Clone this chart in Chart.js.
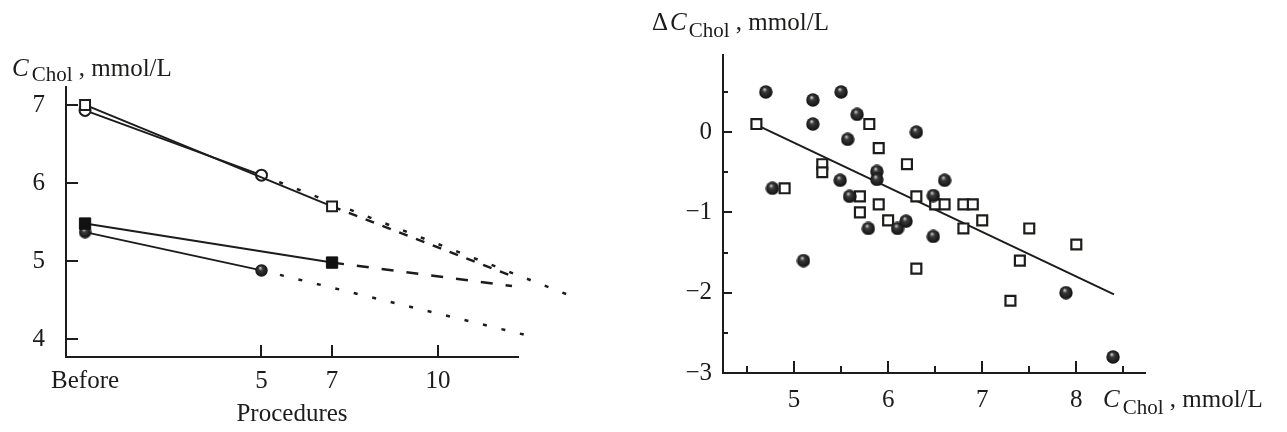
<!DOCTYPE html>
<html>
<head>
<meta charset="utf-8">
<script src="https://cdn.jsdelivr.net/npm/chart.js@4/dist/chart.umd.min.js"></script>
<style>
  html, body { margin: 0; padding: 0; background: #fff; }
  #wrap { position: relative; width: 1287px; height: 432px; }
  canvas { position: absolute; top: 0; }
  #left { left: 0; }
  #right { left: 600px; }
</style>
</head>
<body>
<div id="wrap">
  <canvas id="left" width="600" height="432"></canvas>
  <canvas id="right" width="687" height="432"></canvas>
</div>
<script>
// Panel izquierdo: colesterol según número de procedimientos (0 = Before)
const procTicks = [0, 5, 7, 10];
const procTickLabels = ['Before', '5', '7', '10'];
const cholTicks = [4, 5, 6, 7];

const openSquareX = [0, 7];
const openSquareY = [7.0, 5.7];
const openSquareTrendX = [7, 12.2];
const openSquareTrendY = [5.7, 4.79];

const openCircleX = [0, 5];
const openCircleY = [6.93, 6.1];
const openCircleTrendX = [5, 13.9];
const openCircleTrendY = [6.1, 4.53];

const filledSquareX = [0, 7];
const filledSquareY = [5.48, 4.98];
const filledSquareTrendX = [7, 12.1];
const filledSquareTrendY = [4.98, 4.68];

const filledCircleX = [0, 5];
const filledCircleY = [5.37, 4.88];
const filledCircleTrendX = [5, 12.5];
const filledCircleTrendY = [4.88, 4.05];

// Panel derecho: cambio de colesterol frente al valor inicial
const baseTicks = [5, 6, 7, 8];
const baseMinor = [4.5, 5.5, 6.5, 7.5, 8.5];
const deltaTicks = [0, -1, -2, -3];
const deltaMajor = [0, -1, -2];
const deltaMinor = [0.5, -0.5, -1.5, -2.5];

const ballX = [4.7, 5.2, 5.5, 5.2, 5.67, 5.57, 6.3, 4.77, 5.49, 5.88, 5.88, 6.6, 5.59, 6.48, 5.79, 6.1, 6.19, 6.48, 5.1, 7.89, 8.39];
const ballY = [0.5, 0.4, 0.5, 0.1, 0.22, -0.09, 0.0, -0.7, -0.6, -0.49, -0.59, -0.6, -0.8, -0.79, -1.2, -1.2, -1.11, -1.3, -1.6, -2.0, -2.8];

const boxX = [4.6, 5.8, 5.9, 5.3, 5.3, 4.9, 6.2, 5.7, 5.7, 5.9, 6.0, 6.3, 6.5, 6.6, 6.8, 6.9, 7.0, 6.8, 6.3, 7.5, 7.4, 8.0, 7.3];
const boxY = [0.1, 0.1, -0.2, -0.4, -0.5, -0.7, -0.4, -0.8, -1.0, -0.9, -1.1, -0.8, -0.9, -0.9, -0.9, -0.9, -1.1, -1.2, -1.7, -1.2, -1.6, -1.4, -2.1];

const fitX = [4.6, 8.4];
const fitY = [0.09, -2.02];

const INK = '#1c1c1a';
const SERIF = '"Liberation Serif", "Times New Roman", serif';

Chart.defaults.font.family = SERIF;
Chart.defaults.color = INK;

const pts = (xs, ys) => xs.map((x, i) => ({ x, y: ys[i] }));

// bolita sombreada para los puntos rellenos
function makeBall(d) {
  const c = document.createElement('canvas');
  c.width = d; c.height = d;
  const g = c.getContext('2d');
  const r = d / 2;
  const grad = g.createRadialGradient(r * 0.8, r * 0.6, r * 0.05, r, r, r);
  grad.addColorStop(0, '#c8c8c8');
  grad.addColorStop(0.3, '#3a3a3a');
  grad.addColorStop(1, '#0e0e0e');
  g.fillStyle = grad;
  g.beginPath();
  g.arc(r, r, r - 0.3, 0, Math.PI * 2);
  g.fill();
  return c;
}
const ballBig = makeBall(13);
const ballSmall = makeBall(14);

// marcas de los ejes hacia dentro
const innerTicks = {
  id: 'innerTicks',
  afterDraw(chart, args, opts) {
    const { ctx, chartArea } = chart;
    const xs = chart.scales.x, ys = chart.scales.y;
    ctx.save();
    ctx.strokeStyle = INK;
    ctx.lineWidth = 2;
    (opts.x || []).forEach(([vals, len]) => vals.forEach(v => {
      const px = Math.round(xs.getPixelForValue(v));
      ctx.beginPath();
      ctx.moveTo(px, chartArea.bottom);
      ctx.lineTo(px, chartArea.bottom - len);
      ctx.stroke();
    }));
    (opts.y || []).forEach(([vals, len]) => vals.forEach(v => {
      const py = Math.round(ys.getPixelForValue(v));
      ctx.beginPath();
      ctx.moveTo(chartArea.left, py);
      ctx.lineTo(chartArea.left + len, py);
      ctx.stroke();
    }));
    ctx.restore();
  }
};

// títulos con subíndice
const subTitles = {
  id: 'subTitles',
  afterDraw(chart, args, opts) {
    const ctx = chart.ctx;
    ctx.save();
    ctx.fillStyle = INK;
    ctx.textBaseline = 'alphabetic';
    (opts.items || []).forEach(item => {
      let x = item.x;
      item.parts.forEach(p => {
        ctx.font = p.font;
        x += p.gap || 0;
        ctx.fillText(p.t, x, item.y + (p.dy || 0));
        x += ctx.measureText(p.t).width;
      });
    });
    ctx.restore();
  }
};

const bigFont = '25px ' + SERIF;
const italicFont = 'italic 25px ' + SERIF;
const subFont = '21px ' + SERIF;

// Gráfico izquierdo
new Chart(document.getElementById('left'), {
  type: 'line',
  data: {
    datasets: [
      { data: pts(openSquareX, openSquareY), borderColor: INK, borderWidth: 2, pointStyle: 'rect', pointRadius: 7, pointBackgroundColor: '#fff', pointBorderColor: INK, pointBorderWidth: 2 },
      { data: pts(openCircleX, openCircleY), borderColor: INK, borderWidth: 2, pointStyle: 'circle', pointRadius: 5.5, pointBackgroundColor: '#fff', pointBorderColor: INK, pointBorderWidth: 2 },
      { data: pts(filledSquareX, filledSquareY), borderColor: INK, borderWidth: 2, pointStyle: 'rect', pointRadius: 8, pointBackgroundColor: '#111', pointBorderColor: '#111', pointBorderWidth: 1 },
      { data: pts(filledCircleX, filledCircleY), borderColor: INK, borderWidth: 2, pointStyle: ballBig, pointRadius: 6 },
      { data: pts(openSquareTrendX, openSquareTrendY), borderColor: INK, borderWidth: 2.5, borderDash: [9, 9], pointRadius: 0, clip: false },
      { data: pts(openCircleTrendX, openCircleTrendY), borderColor: INK, borderWidth: 2.5, borderDash: [4, 15], pointRadius: 0, clip: false },
      { data: pts(filledSquareTrendX, filledSquareTrendY), borderColor: INK, borderWidth: 2.5, borderDash: [12, 13], pointRadius: 0, clip: false },
      { data: pts(filledCircleTrendX, filledCircleTrendY), borderColor: INK, borderWidth: 2.5, borderDash: [4, 15], pointRadius: 0, clip: false }
    ]
  },
  options: {
    responsive: false,
    animation: false,
    layout: { padding: { top: 87, right: 82, left: 0, bottom: 0 } },
    plugins: {
      legend: { display: false },
      tooltip: { enabled: false },
      innerTicks: { x: [[[5, 7, 10], 12]], y: [[cholTicks, 12]] },
      subTitles: {
        items: [{ x: 12, y: 76, parts: [
          { t: 'C', font: italicFont },
          { t: 'Chol', font: subFont, dy: 5, gap: 3 },
          { t: ' , mmol/L', font: bigFont }
        ] }]
      }
    },
    scales: {
      x: {
        type: 'linear',
        min: -0.54,
        max: 12.27,
        afterBuildTicks: s => { s.ticks = procTicks.map(v => ({ value: v })); },
        afterFit: s => { s.height = 75; },
        grid: { display: false, drawTicks: false },
        border: { display: true, color: INK, width: 2 },
        ticks: {
          autoSkip: false, maxRotation: 0, padding: 9,
          font: { size: 25 },
          callback: v => procTickLabels[procTicks.indexOf(v)]
        },
        title: { display: true, text: 'Procedures', font: { size: 25 }, padding: { top: 0, bottom: 3 } }
      },
      y: {
        type: 'linear',
        min: 3.77,
        max: 7.23,
        afterBuildTicks: s => { s.ticks = cholTicks.map(v => ({ value: v })); },
        afterFit: s => { s.width = 66; },
        grid: { display: false, drawTicks: false },
        border: { display: true, color: INK, width: 2 },
        ticks: { padding: 21, font: { size: 25 } }
      }
    }
  },
  plugins: [innerTicks, subTitles]
});

// Gráfico derecho
new Chart(document.getElementById('right'), {
  type: 'scatter',
  data: {
    datasets: [
      { data: pts(ballX, ballY), pointStyle: ballSmall, pointRadius: 7 },
      { data: pts(boxX, boxY), pointStyle: 'rect', pointRadius: 7, pointBackgroundColor: '#fff', pointBorderColor: INK, pointBorderWidth: 2.2 },
      { data: pts(fitX, fitY), showLine: true, borderColor: INK, borderWidth: 2, pointRadius: 0 }
    ]
  },
  options: {
    responsive: false,
    animation: false,
    layout: { padding: { top: 55, right: 142, left: 0, bottom: 0 } },
    plugins: {
      legend: { display: false },
      tooltip: { enabled: false },
      innerTicks: { x: [[baseTicks, 12], [baseMinor, 7]], y: [[deltaMajor, 9], [deltaMinor, 5]] },
      subTitles: {
        items: [
          { x: 52, y: 30, parts: [
            { t: 'Δ', font: bigFont },
            { t: 'C', font: italicFont, gap: 2 },
            { t: 'Chol', font: subFont, dy: 7, gap: 2 },
            { t: ' , mmol/L', font: bigFont }
          ] },
          { x: 503, y: 407, parts: [
            { t: 'C', font: italicFont },
            { t: 'Chol', font: subFont, dy: 7, gap: 3 },
            { t: ' , mmol/L', font: bigFont }
          ] }
        ]
      }
    },
    scales: {
      x: {
        type: 'linear',
        min: 4.245,
        max: 8.73,
        afterBuildTicks: s => { s.ticks = baseTicks.map(v => ({ value: v })); },
        afterFit: s => { s.height = 59; },
        grid: { display: false, drawTicks: false },
        border: { display: true, color: INK, width: 2 },
        ticks: { autoSkip: false, maxRotation: 0, padding: 12, font: { size: 25 } }
      },
      y: {
        type: 'linear',
        min: -3,
        max: 0.96,
        afterBuildTicks: s => { s.ticks = deltaTicks.map(v => ({ value: v })); },
        afterFit: s => { s.width = 123; },
        grid: { display: false, drawTicks: false },
        border: { display: true, color: INK, width: 2 },
        ticks: {
          padding: 11,
          font: { size: 25 },
          callback: v => (v < 0 ? '\u2212' + Math.abs(v) : String(v))
        }
      }
    }
  },
  plugins: [innerTicks, subTitles]
});
</script>
</body>
</html>
